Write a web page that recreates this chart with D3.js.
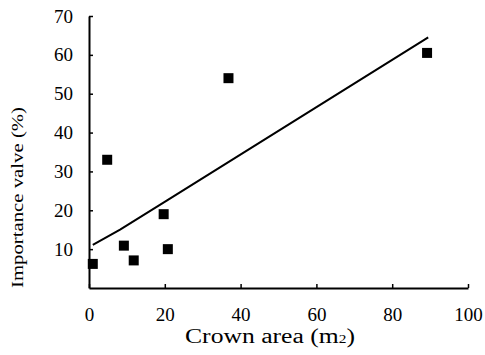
<!DOCTYPE html>
<html><head><meta charset="utf-8">
<script src="https://cdn.jsdelivr.net/npm/d3@7"></script>
<style>body{margin:0;background:#fff}svg{display:block}text{font-family:"Liberation Serif","Times New Roman",serif;fill:#000}</style>
</head><body>
<script>
const crownArea = [1.0, 4.8, 9.2, 11.8, 19.7, 20.8, 36.8, 89.2];
const importance = [6.2, 33.0, 10.9, 7.1, 19.0, 10.0, 54.0, 60.5];
const fitX = [1, 8.2, 20.5, 89.5];
const fitY = [11.1, 15.0, 22.5, 64.5];
const xTicks = [0, 20, 40, 60, 80, 100];
const yTicks = [10, 20, 30, 40, 50, 60, 70];

const W = 485, H = 355;
const svg = d3.select("body").append("svg").attr("width", W).attr("height", H);
const x = d3.scaleLinear().domain([0, 100]).range([89, 468]);
const y = d3.scaleLinear().domain([0, 70]).range([288, 16]);

// axes
const xa = svg.append("g").attr("transform", `translate(0,${y(0)})`)
  .call(d3.axisBottom(x).tickValues(xTicks).tickSizeInner(-4).tickSizeOuter(0).tickPadding(20));
const ya = svg.append("g").attr("transform", `translate(${x(0)},0)`)
  .call(d3.axisLeft(y).tickValues(yTicks).tickSizeInner(-4).tickSizeOuter(0).tickPadding(16));
[xa, ya].forEach(a => {
  a.select(".domain").attr("stroke", "#000").attr("stroke-width", 2);
  a.selectAll(".tick line").attr("stroke", "#000").attr("stroke-width", 1.5);
  a.selectAll("text").style("font-size", "19px").style("font-family", "'Liberation Serif',serif").attr("fill", "#000");
});
xa.selectAll("text").attr("dy", "0.71em");

// fitted line
svg.append("path")
  .datum(fitX.map((d, i) => [d, fitY[i]]))
  .attr("fill", "none").attr("stroke", "#000").attr("stroke-width", 2)
  .attr("d", d3.line().x(d => x(d[0])).y(d => y(d[1])));

// points
const s = 10;
svg.selectAll("rect.pt").data(crownArea).join("rect").attr("class", "pt")
  .attr("x", d => x(d) - s / 2)
  .attr("y", (d, i) => y(importance[i]) - s / 2)
  .attr("width", s).attr("height", s).attr("fill", "#000");

// labels
svg.append("text").attr("x", 185).attr("y", 343)
  .attr("textLength", 170).attr("lengthAdjust", "spacingAndGlyphs")
  .style("font-size", "20px")
  .html('Crown area (m<tspan style="font-size:12px">2</tspan>)');
svg.append("text").attr("transform", "translate(23,288) rotate(-90)")
  .attr("textLength", 181).attr("lengthAdjust", "spacingAndGlyphs")
  .style("font-size", "17px").text("Importance valve (%)");
</script>
</body></html>
